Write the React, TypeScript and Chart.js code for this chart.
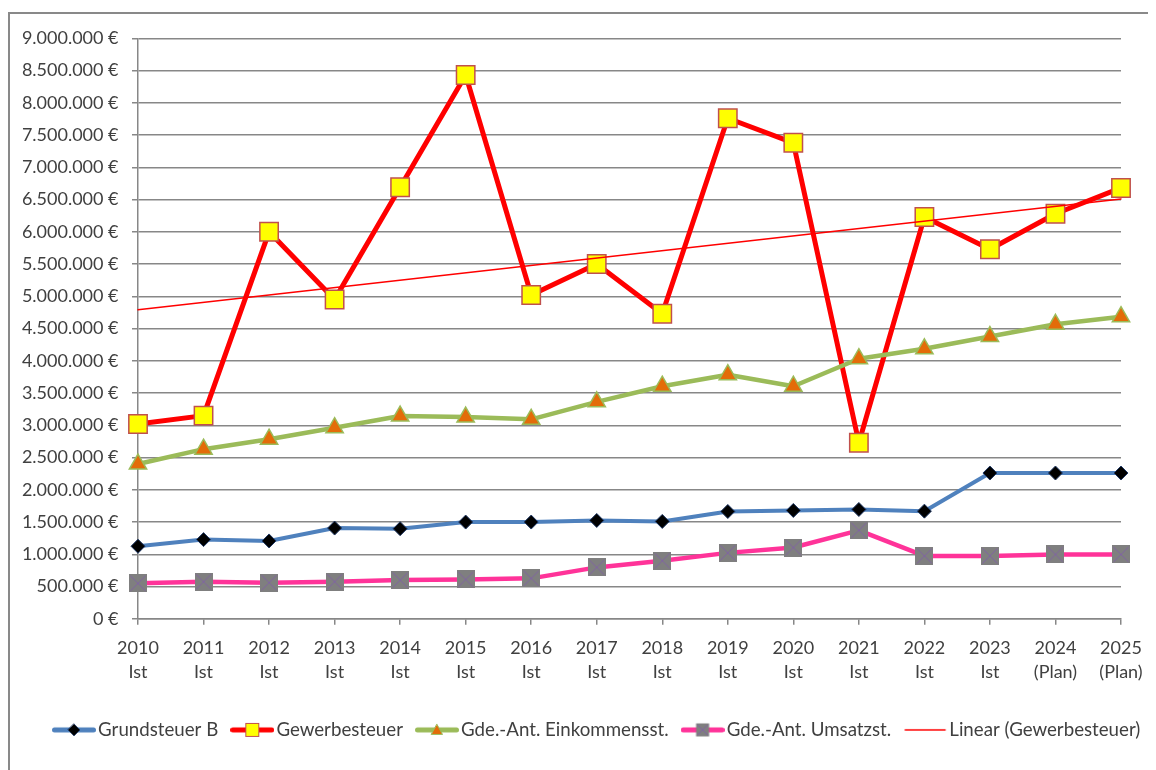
import React, { useEffect, useRef } from 'react';
import { Chart, registerables } from 'chart.js';

Chart.register(...registerables);

const years = ['2010', '2011', '2012', '2013', '2014', '2015', '2016', '2017', '2018', '2019', '2020', '2021', '2022', '2023', '2024', '2025'];
const phases = ['Ist', 'Ist', 'Ist', 'Ist', 'Ist', 'Ist', 'Ist', 'Ist', 'Ist', 'Ist', 'Ist', 'Ist', 'Ist', 'Ist', '(Plan)', '(Plan)'];

const grundsteuerB = [1125000, 1228000, 1207000, 1407000, 1397000, 1500000, 1500000, 1525000, 1510000, 1664000, 1680000, 1695000, 1669000, 2260000, 2260000, 2260000];
const gewerbesteuer = [3020000, 3150000, 6000000, 4950000, 6690000, 8430000, 5020000, 5500000, 4730000, 7760000, 7380000, 2730000, 6230000, 5730000, 6280000, 6680000];
const einkommensst = [2400000, 2630000, 2784000, 2963000, 3143000, 3128000, 3092000, 3364000, 3606000, 3785000, 3606000, 4032000, 4186000, 4376000, 4566000, 4684000];
const umsatzst = [550000, 575000, 560000, 575000, 600000, 610000, 627000, 797000, 900000, 1022000, 1105000, 1371000, 975000, 975000, 997000, 997000];
const trendGewerbe = [4790000, null, null, null, null, null, null, null, null, null, null, null, null, null, null, 6510000];

const seriesNames = ['Grundsteuer B', 'Gewerbesteuer', 'Gde.-Ant. Einkommensst.', 'Gde.-Ant. Umsatzst.', 'Linear (Gewerbesteuer)'];

const Y_MIN = 0;
const Y_MAX = 9000000;
const Y_STEP = 500000;

const TEXT = '#404040';
const GRID = '#878787';
const FONT = 'Lato';

function fmtEuro(v: number) {
  return String(Math.round(v)).replace(/\B(?=(\d{3})+(?!\d))/g, '.') + ' €';
}

function mk(w: number, h: number, f: (c: CanvasRenderingContext2D) => void) {
  const cv = document.createElement('canvas');
  cv.width = w;
  cv.height = h;
  const c = cv.getContext('2d') as CanvasRenderingContext2D;
  f(c);
  return cv;
}

function xSquare(c: CanvasRenderingContext2D, x0: number, y0: number, s: number) {
  c.fillStyle = '#7f7f7f';
  c.fillRect(x0, y0, s, s);
  c.strokeStyle = '#8064a2';
  c.lineWidth = 1;
  c.beginPath();
  c.moveTo(x0 + 1.5, y0 + 1.5);
  c.lineTo(x0 + s - 1.5, y0 + s - 1.5);
  c.moveTo(x0 + s - 1.5, y0 + 1.5);
  c.lineTo(x0 + 1.5, y0 + s - 1.5);
  c.stroke();
}

const LW = 44;
const LH = 18;
const CX = LW / 2;
const CY = LH / 2;

function legendLine(c: CanvasRenderingContext2D, color: string, lw: number) {
  c.strokeStyle = color;
  c.lineWidth = lw;
  c.lineCap = 'round';
  c.beginPath();
  c.moveTo(2.5, CY);
  c.lineTo(LW - 2.5, CY);
  c.stroke();
}

// moves the legend row to the right, as in the original layout
const legendShift = {
  id: 'legendShift',
  afterLayout(chart: any) {
    const l = chart.legend;
    if (l) {
      l.left += 30;
      l.right += 30;
    }
  },
};

export default function App() {
  const ref = useRef<HTMLCanvasElement | null>(null);

  useEffect(() => {
    if (!ref.current) return;

    const umsatzMarker = mk(18, 18, (c) => xSquare(c, 0, 0, 18));

    const legendImgs = [
      mk(LW, LH, (c) => {
        legendLine(c, '#4f81bd', 5);
        c.beginPath();
        c.moveTo(CX, CY - 6);
        c.lineTo(CX + 6, CY);
        c.lineTo(CX, CY + 6);
        c.lineTo(CX - 6, CY);
        c.closePath();
        c.fillStyle = '#000';
        c.fill();
        c.strokeStyle = '#1f3864';
        c.lineWidth = 0.8;
        c.stroke();
      }),
      mk(LW, LH, (c) => {
        legendLine(c, '#ff0000', 5);
        c.fillStyle = '#ffff00';
        c.fillRect(CX - 6.5, CY - 6.5, 13, 13);
        c.strokeStyle = '#c0504d';
        c.lineWidth = 1;
        c.strokeRect(CX - 6.5, CY - 6.5, 13, 13);
      }),
      mk(LW, LH, (c) => {
        legendLine(c, '#9bbb59', 5);
        c.beginPath();
        c.moveTo(CX, CY - 5.5);
        c.lineTo(CX + 5.5, CY + 4.5);
        c.lineTo(CX - 5.5, CY + 4.5);
        c.closePath();
        c.fillStyle = '#e36c09';
        c.fill();
        c.strokeStyle = '#9bbb59';
        c.lineWidth = 1;
        c.stroke();
      }),
      mk(LW, LH, (c) => {
        legendLine(c, '#ff3399', 5);
        xSquare(c, CX - 6.5, CY - 6.5, 13);
      }),
      mk(LW, LH, (c) => {
        c.strokeStyle = '#ff0000';
        c.lineWidth = 1.5;
        c.beginPath();
        c.moveTo(1.5, CY);
        c.lineTo(42.5, CY);
        c.stroke();
      }),
    ];

    const labels = years.map((y, i) => [y, phases[i]]);

    const chart = new Chart(ref.current, {
      type: 'line',
      plugins: [legendShift],
      data: {
        labels,
        datasets: [
          {
            label: seriesNames[0],
            data: grundsteuerB,
            borderColor: '#4f81bd',
            borderWidth: 4,
            pointStyle: 'rectRot',
            pointRadius: 7,
            pointBackgroundColor: '#000000',
            pointBorderColor: '#1f3864',
            pointBorderWidth: 1,
            order: 5,
            clip: false,
          },
          {
            label: seriesNames[1],
            data: gewerbesteuer,
            borderColor: '#ff0000',
            borderWidth: 5,
            pointStyle: 'rect',
            pointRadius: 13,
            pointBackgroundColor: '#ffff00',
            pointBorderColor: '#c0504d',
            pointBorderWidth: 1.5,
            order: 4,
            clip: false,
          },
          {
            label: seriesNames[2],
            data: einkommensst,
            borderColor: '#9bbb59',
            borderWidth: 4.5,
            pointStyle: 'triangle',
            pointRadius: 10,
            pointBackgroundColor: '#e36c09',
            pointBorderColor: '#9bbb59',
            pointBorderWidth: 1.5,
            order: 3,
            clip: false,
          },
          {
            label: seriesNames[3],
            data: umsatzst,
            borderColor: '#ff3399',
            borderWidth: 4.5,
            pointStyle: umsatzMarker,
            pointRadius: 9,
            order: 2,
            clip: false,
          },
          {
            label: seriesNames[4],
            data: trendGewerbe,
            borderColor: '#ff0000',
            borderWidth: 1.5,
            pointRadius: 0,
            spanGaps: true,
            order: 1,
            clip: false,
          },
        ],
      },
      options: {
        animation: false,
        responsive: false,
        maintainAspectRatio: false,
        elements: {
          line: { tension: 0, borderJoinStyle: 'round', borderCapStyle: 'round' },
        },
        layout: { padding: { top: 21, right: 5, left: 0, bottom: 20.75 } },
        plugins: {
          tooltip: { enabled: false },
          title: { display: false },
          legend: {
            position: 'bottom',
            align: 'start',
            labels: {
              usePointStyle: true,
              pointStyleWidth: 29.5,
              padding: 19.25,
              color: TEXT,
              font: { family: FONT, size: 18.7 },
              generateLabels: () =>
                seriesNames.map((t, i) => ({
                  text: t,
                  pointStyle: legendImgs[i] as any,
                  fillStyle: 'transparent',
                  strokeStyle: 'transparent',
                  lineWidth: 0,
                  hidden: false,
                  datasetIndex: i,
                  fontColor: TEXT,
                })),
            },
          },
        },
        scales: {
          x: {
            type: 'category',
            offset: false,
            afterFit: (scale: any) => {
              scale.height = 82.5;
              scale.paddingLeft = 0;
              scale.paddingRight = 49;
            },
            grid: {
              display: true,
              drawOnChartArea: false,
              drawTicks: true,
              tickLength: 6,
              color: GRID,
              lineWidth: 1.5,
            },
            border: { display: true, color: GRID, width: 1.5 },
            ticks: {
              color: TEXT,
              font: { family: FONT, size: 18, lineHeight: 1.3 },
              padding: 12,
              maxRotation: 0,
              autoSkip: false,
            },
          },
          y: {
            min: Y_MIN,
            max: Y_MAX,
            afterFit: (scale: any) => {
              scale.width = 128;
            },
            grid: {
              display: true,
              drawOnChartArea: true,
              drawTicks: true,
              tickLength: 6,
              color: GRID,
              lineWidth: 1.5,
            },
            border: { display: true, color: GRID, width: 1.5 },
            ticks: {
              stepSize: Y_STEP,
              color: TEXT,
              font: { family: FONT, size: 18 },
              padding: 13.5,
              callback: (v: any) => fmtEuro(Number(v)),
            },
          },
        },
      },
    });

    return () => chart.destroy();
  }, []);

  return (
    <div style={{ width: 1148, height: 762, overflow: 'hidden', paddingTop: 4, boxSizing: 'border-box' }}>
      <div style={{ width: 1200, height: 800, border: '2px solid #898989', boxSizing: 'border-box' }}>
        <canvas ref={ref} width={1160} height={756} style={{ display: 'block', width: 1160, height: 756 }} />
      </div>
    </div>
  );
}
